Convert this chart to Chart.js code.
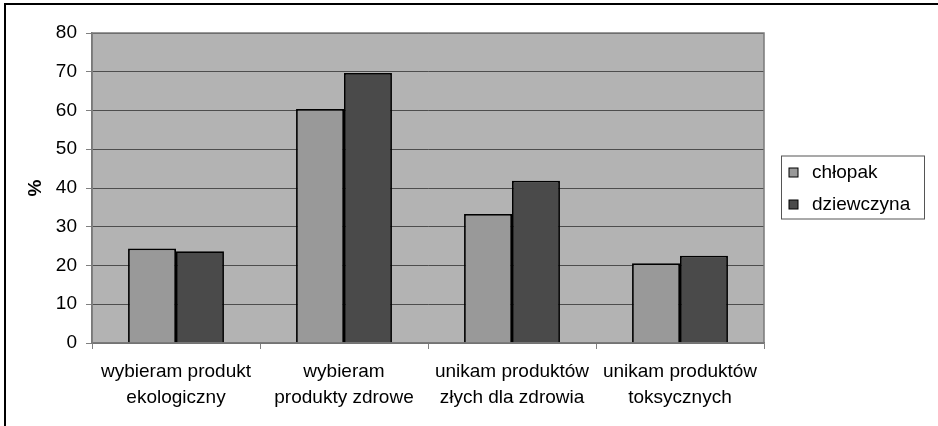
<!DOCTYPE html>
<html>
<head>
<meta charset="utf-8">
<script src="https://cdn.jsdelivr.net/npm/chart.js@4/dist/chart.umd.min.js"></script>
<style>
  html, body { margin: 0; padding: 0; background: #fff; }
  #wrap { width: 938px; height: 426px; }
</style>
</head>
<body>
<div id="wrap"><canvas id="chart" width="938" height="426"></canvas></div>
<script>
// Data
const categories = [
    ['wybieram produkt', 'ekologiczny'],
    ['wybieram', 'produkty zdrowe'],
    ['unikam produktów', 'złych dla zdrowia'],
    ['unikam produktów', 'toksycznych']
];
const seriesNames = ['chłopak', 'dziewczyna'];
const chlopak = [24.4, 60.4, 33.3, 20.6];
const dziewczyna = [23.7, 69.7, 41.9, 22.5];
const yTicks = [0, 10, 20, 30, 40, 50, 60, 70, 80];

const FONT = 'Arial, "Liberation Sans", sans-serif';

// plot background, frame and outer border
const framePlugin = {
    id: 'frame',
    beforeDraw(chart) {
        const {ctx, chartArea: a} = chart;
        ctx.save();
        ctx.fillStyle = '#b3b3b3';
        ctx.fillRect(a.left, a.top, a.right - a.left, a.bottom - a.top);
        ctx.restore();
    },
    afterDraw(chart) {
        const {ctx, chartArea: a} = chart;
        ctx.save();
        ctx.strokeStyle = '#7a7a7a';
        ctx.lineWidth = 1.5;
        ctx.strokeRect(a.left, a.top, a.right - a.left, a.bottom - a.top);
        // outer border (top and left only, picture is cropped)
        ctx.strokeStyle = '#000';
        ctx.lineWidth = 2;
        ctx.beginPath();
        ctx.moveTo(5, 426);
        ctx.lineTo(5, 4);
        ctx.lineTo(938, 4);
        ctx.stroke();
        ctx.restore();
    }
};

// boxed legend on the right
const boxLegend = {
    id: 'boxLegend',
    afterDraw(chart) {
        const {ctx, chartArea: a} = chart;
        const x = a.right + 17, w = 143, h = 63;
        const y = (a.top + a.bottom) / 2 - h / 2 - 1;
        ctx.save();
        ctx.strokeStyle = '#555';
        ctx.lineWidth = 1;
        ctx.strokeRect(x + 0.5, y + 0.5, w, h);
        ctx.font = '19px ' + FONT;
        ctx.textBaseline = 'middle';
        chart.data.datasets.forEach((ds, i) => {
            const cy = y + 17 + i * 32;
            ctx.fillStyle = ds.backgroundColor;
            ctx.fillRect(x + 8, cy - 4.5, 9, 9);
            ctx.strokeStyle = '#000';
            ctx.strokeRect(x + 8, cy - 4.5, 9, 9);
            ctx.fillStyle = '#000';
            ctx.fillText(ds.label, x + 31, cy);
        });
        ctx.restore();
    }
};

const ctx = document.getElementById('chart').getContext('2d');
new Chart(ctx, {
    type: 'bar',
    data: {
        labels: categories,
        datasets: [{
            label: seriesNames[0],
            data: chlopak,
            backgroundColor: '#999999',
            borderColor: '#000',
            borderWidth: 1.8,
        }, {
            label: seriesNames[1],
            data: dziewczyna,
            backgroundColor: '#4a4a4a',
            borderColor: '#000',
            borderWidth: 1.8,
        }]
    },
    options: {
        responsive: false,
        animation: false,
        layout: { padding: { left: 5, top: 33, right: 174, bottom: 0 } },
        datasets: { bar: { categoryPercentage: 0.571, barPercentage: 1.0 } },
        plugins: { legend: { display: false }, tooltip: { enabled: false } },
        scales: {
            x: {
                afterFit(scale) { scale.height = 83; },
                grid: { drawOnChartArea: false, drawTicks: true, tickLength: 6, color: '#808080', offset: true },
                border: { color: '#7a7a7a', width: 1.5 },
                ticks: { color: '#000', font: { family: FONT, size: 19, lineHeight: 1.4 }, padding: 9, maxRotation: 0, autoSkip: false }
            },
            y: {
                min: 0,
                max: 80,
                afterFit(scale) { scale.width = 87; },
                afterBuildTicks(scale) { scale.ticks = yTicks.map(v => ({ value: v })); },
                grid: { color: '#4d4d4d', lineWidth: 1, tickLength: 6, tickColor: '#808080' },
                border: { color: '#7a7a7a', width: 1.5 },
                ticks: { color: '#000', font: { family: FONT, size: 19 }, padding: 9 },
                title: { display: true, text: '%', color: '#000', font: { family: FONT, size: 19, weight: 'bold' }, padding: { top: 19, bottom: 0 } }
            }
        }
    },
    plugins: [framePlugin, boxLegend]
});
</script>
</body>
</html>
